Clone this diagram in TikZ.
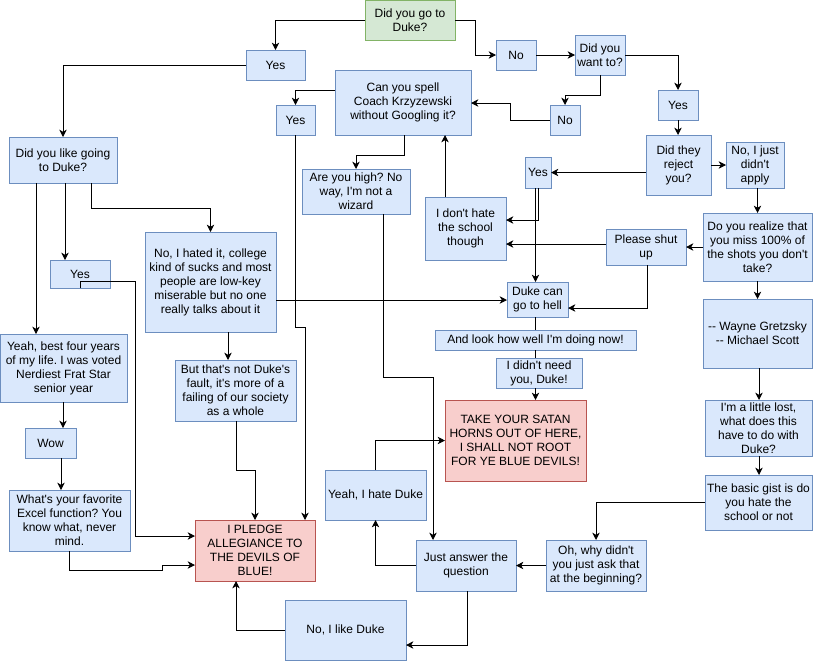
\documentclass[tikz,border=0pt]{standalone}
\usepackage{fontspec}
\setmainfont{Liberation Sans}[Ligatures=TeXOff]
\usetikzlibrary{arrows.meta}
\definecolor{bfill}{HTML}{DAE8FC}
\definecolor{bdraw}{HTML}{6C8EBF}
\definecolor{gfill}{HTML}{D5E8D4}
\definecolor{gdraw}{HTML}{82B366}
\definecolor{rfill}{HTML}{F8CECC}
\definecolor{rdraw}{HTML}{B85450}
\newcommand\bx[7]{\node[#1, minimum width={(#5-#3)*0.75pt}, minimum height={(#6-#4)*0.75pt}] (#2) at ({(#3+#5)/2},{(#4+#6)/2}) {#7};}
\frenchspacing
\begin{document}
\begin{tikzpicture}[x=0.75pt,y=-0.75pt,
  box/.style={draw=bdraw, fill=bfill, line width=0.75pt, inner sep=1pt, outer sep=0pt, align=center, font=\fontsize{9}{10.5}\selectfont\frenchspacing, text=black},
  gbox/.style={box, draw=gdraw, fill=gfill},
  rbox/.style={box, draw=rdraw, fill=rfill},
  arr/.style={-{Stealth[length=5.5pt,width=5.5pt,inset=1.6pt]}, line width=0.75pt},
  ln/.style={line width=0.75pt}]
\useasboundingbox (0,0) rectangle (813,661);
\fill[white] (0,0) rectangle (813,661);

\bx{gbox}{green}{365}{0}{455}{40}{Did you go to\\Duke?}
\bx{box}{yesA}{246}{50}{305}{80}{Yes}
\bx{box}{noA}{496}{40}{536}{70}{No}
\bx{box}{want}{575}{35}{625}{75}{Did you\\want to?}
\bx{box}{spell}{335}{70}{471}{135}{Can you spell\\Coach Krzyzewski\\without Googling it?}
\bx{box}{yesB}{276}{105}{315}{135}{Yes}
\bx{box}{noB}{550}{105}{580}{135}{No}
\bx{box}{yesR}{658}{90}{698}{120}{Yes}
\bx{box}{reject}{646}{135}{711}{195}{Did they\\reject\\you?}
\bx{box}{justno}{726}{142}{784}{188}{No, I just\\didn't\\apply}
\bx{box}{yesS}{525}{157}{551}{188}{Yes}
\bx{box}{likeduke}{9}{137}{117}{183}{Did you like going\\to Duke?}
\bx{box}{high}{302}{169}{410}{214}{Are you high? No\\way, I'm not a\\wizard}
\bx{box}{donthate}{425}{197}{506}{260}{I don't hate\\the school\\though}
\bx{box}{realize}{703}{213}{812}{281}{Do you realize that\\you miss 100\% of\\the shots you don't\\take?}
\bx{box}{shut}{606}{229}{686}{265}{Please shut\\up}
\bx{box}{hated}{145}{232}{276}{332}{No, I hated it, college\\kind of sucks and most\\people are low-key\\miserable but no one\\really talks about it}
\bx{box}{yesL}{50}{260}{110}{288}{Yes}
\bx{box}{hell}{507}{282}{568}{317}{Duke can\\go to hell}
\bx{box}{lookwell}{435}{330}{636}{350}{And look how well I'm doing now!}
\bx{box}{needyou}{496}{358}{582}{388}{I didn't need\\you, Duke!}
\bx{rbox}{satan}{445}{400}{586}{481}{TAKE YOUR SATAN\\HORNS OUT OF HERE,\\I SHALL NOT ROOT\\FOR YE BLUE DEVILS!}
\bx{box}{best}{0}{334}{127}{402}{Yeah, best four years\\of my life. I was voted\\Nerdiest Frat Star\\senior year}
\bx{box}{butnot}{175}{360}{296}{421}{But that's not Duke's\\fault, it's more of a\\failing of our society\\as a whole}
\bx{box}{wayne}{703}{299}{812}{368}{-- Wayne Gretzsky\\-- Michael Scott}
\bx{box}{lost}{705}{400}{812}{456}{I'm a little lost,\\what does this\\have to do with\\Duke?}
\bx{box}{gist}{705}{475}{812}{530}{The basic gist is do\\you hate the\\school or not}
\bx{box}{wow}{25}{428}{76}{458}{Wow}
\bx{box}{excel}{9}{490}{130}{551}{What's your favorite\\Excel function? You\\know what, never\\mind.}
\bx{rbox}{pledge}{195}{520}{315}{581}{I PLEDGE\\ALLEGIANCE TO\\THE DEVILS OF\\BLUE!}
\bx{box}{hateduke}{325}{470}{426}{520}{Yeah, I hate Duke}
\bx{box}{answer}{416}{540}{516}{591}{Just answer the\\question}
\bx{box}{ohwhy}{546}{540}{646}{591}{Oh, why didn't\\you just ask that\\at the beginning?}
\bx{box}{likeduke2}{285}{600}{406}{660}{No, I like Duke}

% connectors
\draw[arr] (green.west) -| (yesA.north);
\draw[arr] (green.east) -- (475,20) |- (noA.west);
\draw[arr] (noA.east) -- (want.west);
\draw[arr] (want.east) -| (yesR.north);
\draw[arr] (want.south) -- (600,95) -| (noB.north);
\draw[arr] (noB.west) -| (510,103) -- (spell.east |- 0,103);
\draw[arr] (yesR.south) -- (reject.north -| yesR.south);
\draw[arr] (reject.east) -- (justno.west);
\draw[arr] (reject.west |- 0,172.5) -- (yesS.east);
\draw[arr] (justno.south -| realize.north) -- (realize.north);
\draw[arr] (realize.west) -- (shut.east);
\draw[arr] (shut.west |- 0,244) -- (donthate.east |- 0,244);
\draw[arr] (shut.south -| 647,0) |- (hell.east |- 0,308);
\draw[arr] (yesS.south -| 538.5,0) |- (donthate.east |- 0,220);
\draw[arr] (yesS.south -| 535.5,0) -- (hell.north -| 535.5,0);
\draw[arr] (donthate.north -| 445,0) -- (spell.south -| 445,0);
\draw[arr] (spell.west |- 0,90) -| (yesB.north);
\draw[arr] (spell.south -| 404,0) -- (404,155) -| (high.north);
\draw[arr] (yesB.south) -- (295.5,327) -| (pledge.north -| 305,0);
\draw[arr] (high.south -| 383,0) -- (383,377) -| (answer.north -| 433,0);
\draw[arr] (likeduke.south -| 36,0) -- (best.north -| 36,0);
\draw[arr] (likeduke.south -| 65,0) -- (yesL.north -| 65,0);
\draw[arr] (likeduke.south -| 91,0) -- (91,208) -| (hated.north);
\draw[arr] (yesA.west) -| (likeduke.north);
\draw[arr] (yesL.south -| 80,0) -- (80,281) -- (135,281) |- (pledge.west |- 0,536);
\draw[arr] (best.south -| 63,0) -- (wow.north -| 63,0);
\draw[arr] (wow.south -| 61,0) -- (excel.north -| 61,0);
\draw[arr] (excel.south -| 69,0) -- (69,570) -- (162,570) |- (pledge.west |- 0,565);
\draw[arr] (hated.east |- 0,300) -- (hell.west |- 0,300);
\draw[arr] (hated.south -| 228,0) -- (butnot.north -| 228,0);
\draw[arr] (butnot.south -| 236,0) -- (236,470) -| (pledge.north -| 255,0);
\draw[ln] (hell.south -| 535.5,0) -- (lookwell.north -| 535.5,0);
\draw[ln] (lookwell.south -| 535.5,0) -- (needyou.north -| 535.5,0);
\draw[arr] (needyou.south -| 535.5,0) -- (satan.north -| 535.5,0);
\draw[arr] (realize.south) -- (wayne.north);
\draw[arr] (wayne.south -| 759,0) -- (lost.north -| 759,0);
\draw[arr] (lost.south -| 759,0) -- (gist.north -| 759,0);
\draw[arr] (gist.west) -| (ohwhy.north);
\draw[arr] (ohwhy.west) -- (answer.east);
\draw[arr] (answer.west) -| (hateduke.south);
\draw[arr] (hateduke.north) |- (satan.west);
\draw[arr] (answer.south -| 467,0) |- (likeduke2.east |- 0,645);
\draw[arr] (likeduke2.west) -| (pledge.south -| 236,0);
\end{tikzpicture}
\end{document}
